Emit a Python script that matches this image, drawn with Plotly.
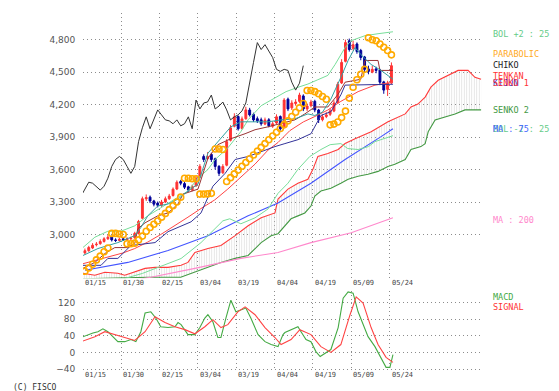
import plotly.graph_objects as go

W, H = 559, 391

# ---------------- data ----------------
day = list(range(81))
open_ = [2830, 2850, 2875, 2905, 2915, 2935, 2960, 2980, 2950, 2945,
         2960, 2950, 2960, 2970, 3010, 3150, 3330, 3345, 3310, 3290,
         3270, 3300, 3330, 3360, 3420, 3490, 3470, 3440, 3410, 3450,
         3530, 3720, 3700, 3740, 3700, 3630, 3570, 3640, 3870, 4000,
         4090, 3980, 4070, 4150, 4110, 4070, 4060, 4020, 4060, 4000,
         4030, 4090, 3990, 4250, 4170, 4210, 4230, 4280, 4160, 4190,
         4230, 4150, 4060, 4090, 4110, 4140, 4220, 4400, 4600, 4790,
         4720, 4760, 4700, 4640, 4530, 4500, 4530, 4520, 4410, 4340, 4400]
close = [2850, 2880, 2900, 2910, 2935, 2960, 2975, 2950, 2945, 2955,
         2950, 2960, 2965, 3010, 3120, 3330, 3340, 3310, 3280, 3270,
         3300, 3330, 3355, 3419, 3483, 3474, 3437, 3410, 3446, 3520,
         3629, 3693, 3721, 3693, 3629, 3565, 3629, 3858, 3986, 4087,
         3977, 4068, 4151, 4105, 4059, 4050, 4023, 4059, 4004, 4023,
         4087, 3977, 4242, 4160, 4215, 4224, 4288, 4160, 4187, 4224,
         4151, 4059, 4087, 4105, 4142, 4215, 4388, 4590, 4773, 4709,
         4754, 4690, 4635, 4526, 4507, 4526, 4516, 4407, 4334, 4398, 4560]
high = [2870, 2895, 2920, 2930, 2955, 2975, 2995, 2990, 2965, 2970,
        2975, 2975, 2980, 3025, 3135, 3350, 3370, 3360, 3320, 3305,
        3320, 3350, 3375, 3435, 3500, 3505, 3485, 3450, 3460, 3540,
        3650, 3740, 3760, 3755, 3710, 3640, 3650, 3880, 4010, 4120,
        4100, 4090, 4180, 4170, 4125, 4090, 4080, 4080, 4075, 4045,
        4110, 4100, 4260, 4265, 4240, 4250, 4310, 4295, 4210, 4245,
        4245, 4160, 4110, 4130, 4165, 4240, 4410, 4620, 4800, 4810,
        4790, 4775, 4715, 4650, 4560, 4560, 4550, 4530, 4420, 4420, 4590]
low = [2815, 2840, 2865, 2890, 2905, 2925, 2950, 2935, 2930, 2935,
       2940, 2940, 2950, 2960, 3000, 3140, 3310, 3290, 3260, 3250,
       3255, 3290, 3320, 3350, 3410, 3455, 3420, 3395, 3400, 3440,
       3520, 3670, 3690, 3670, 3600, 3540, 3560, 3630, 3860, 3990,
       3960, 3970, 4060, 4090, 4040, 4030, 4005, 4010, 3990, 3985,
       4020, 3960, 3980, 4140, 4150, 4190, 4215, 4140, 4140, 4175,
       4130, 4030, 4045, 4075, 4095, 4130, 4210, 4390, 4590, 4690,
       4700, 4670, 4610, 4500, 4480, 4490, 4490, 4380, 4300, 4280, 4390]
CHIKO_SHIFT = 23

bol_up_x = [-0.5, 2.6, 6, 9.4, 13, 16.4, 19.8, 23.5, 26.9, 29.5, 32.1, 33.9, 37.3, 40.7,
            42.6, 46, 49.6, 52.5, 55.6, 58.2, 60.8, 63.4, 65.3, 67.9, 69.5, 73.1, 76.5, 80.4]
bol_up = [2880, 2975, 3030, 3030, 3080, 3172, 3246, 3327, 3401, 3520, 3600, 3690, 3800, 3950,
          4060, 4190, 4260, 4320, 4360, 4390, 4430, 4470, 4571, 4727, 4791, 4837, 4855, 4873]
bol_lo_x = [-0.5, 10, 15, 18.3, 25.1, 30.3, 33.9, 36, 37.8, 40.7, 44.4, 47.8, 50.4, 53,
            55.6, 58.7, 61.6, 64, 66.8, 68.6, 71.3, 74, 75.7, 80.4]
bol_lo = [2560, 2590, 2640, 2687, 2778, 2925, 3053, 3126, 3145, 3099, 3154, 3236, 3380, 3474,
          3602, 3721, 3785, 3830, 3840, 3794, 3785, 3812, 3858, 3913]
ma25_x = [-0.5, 6, 10, 13, 16.4, 19.8, 23.5, 26.9, 30.3, 33.9, 37.3, 40.7, 44.4, 47.8, 50.4,
          53.5, 57, 60, 63.4, 66.8, 71.3, 75.7, 80.4]
ma25 = [2730, 2790, 2830, 2870, 2930, 3000, 3080, 3160, 3240, 3320, 3420, 3530, 3650, 3780,
        3850, 3960, 4040, 4090, 4150, 4230, 4320, 4380, 4407]
ma75_x = [0, 11.2, 21.7, 32.1, 42.6, 50.4, 59, 67.9, 77.3, 80.4]
ma75 = [2669, 2742, 2852, 2989, 3172, 3291, 3474, 3693, 3904, 3977]
ma200_x = [10, 17.2, 28.7, 40.7, 50.4, 59, 69.5, 80.4]
ma200 = [2560, 2605, 2687, 2779, 2834, 2925, 3016, 3154]
short_x = [-0.5, 3.4, 6, 8.6, 13, 14.4, 16.4, 19, 21.7, 24.3, 26.9, 29.5, 32.1, 35.5, 38.1,
           40.7, 44.4, 47.8, 51.2, 54.8, 58.2, 60, 62, 64.2, 66.8, 68.7, 70.5, 72, 74.7, 77.3, 80.4]
short_ma = [2806, 2870, 2898, 2925, 2989, 3053, 3172, 3263, 3282, 3327, 3401, 3465, 3751, 3885,
            3995, 4041, 4041, 4041, 4059, 4068, 4114, 4100, 4130, 4251, 4452, 4608, 4727, 4663,
            4571, 4516, 4434]
tenkan_x = [-0.5, 2.6, 5.2, 7.8, 11.2, 13, 13.8, 15.7, 19, 21.7, 24.3, 25.6, 29.5, 32.1, 34.7,
            38.1, 41.8, 44.4, 47.8, 51.2, 54.8, 57.4, 60, 63.4, 66.1, 67.9, 72, 73.1, 76.5, 77, 80.4]
tenkan = [2687, 2742, 2824, 2879, 2879, 2916, 3053, 3108, 3172, 3199, 3282, 3373, 3419, 3703,
          3830, 3885, 3931, 3968, 3995, 4023, 4059, 4114, 4178, 4178, 4297, 4407, 4434, 4608,
          4608, 4516, 4516]
kijun_x = [-0.5, 4.2, 6, 8.6, 12, 18.3, 21.7, 25.1, 27.7, 30.3, 33.4, 36.6, 39.2, 42.6, 46,
           49.6, 52.2, 55.6, 59, 61.6, 64.2, 66.8, 67.9, 75.7, 80.4]
kijun = [2715, 2715, 2779, 2779, 2898, 2925, 3026, 3081, 3117, 3199, 3446, 3565, 3693, 3721,
         3767, 3812, 3840, 3876, 3931, 4100, 4135, 4290, 4380, 4388, 4388]
senko1_x = [-0.5, 2.6, 5.2, 8.6, 10.4, 13, 15.7, 18.3, 21.7, 25.1, 26.9, 28.7, 32.1, 35.5, 39.2,
            42.6, 46, 49.6, 50.4, 53, 55.6, 58.2, 59.5, 60.8, 63.4, 66.1, 67.9, 70.5, 74.7,
            79.1, 81.7, 83.6, 85.1, 86.9, 88.8, 90.3, 92.2, 94.8, 97.4, 100, 101.8, 103.4]
senko1 = [2642, 2623, 2651, 2642, 2623, 2651, 2687, 2696, 2696, 2715, 2742, 2834, 2870, 2898,
          2989, 3081, 3154, 3199, 3327, 3419, 3474, 3510, 3602, 3721, 3748, 3785, 3840, 3885,
          3949, 4041, 4087, 4114, 4178, 4205, 4270, 4361, 4425, 4471, 4516, 4516, 4452, 4434]
senko2_x = [-0.5, 16.4, 25, 28.7, 35.5, 39.2, 42.6, 46, 48.6, 50.4, 52.2, 53.8, 55.6, 57.4,
            59, 60, 61.6, 64.2, 66.8, 68.7, 71.3, 73.9, 76.5, 79.1, 80.9, 83.6, 85.1, 87.7,
            88.8, 89.6, 91.4, 94, 96.6, 99.2, 103.4]
senko2 = [2590, 2605, 2605, 2651, 2742, 2779, 2806, 2925, 2989, 3007, 3081, 3145, 3172, 3199,
          3263, 3355, 3401, 3428, 3474, 3510, 3538, 3556, 3583, 3629, 3648, 3693, 3785, 3812,
          3840, 3949, 4059, 4087, 4114, 4151, 4151]
parabolic = [2660, 2690, 2725, 2765, 2800, 2840, 2875, 3010, 3010, 3005,
             3000, 2915, 2915, 2920, 2950, 2985, 3030, 3065, 3095, 3125,
             3160, 3195, 3230, 3265, 3300, 3345, 3520, 3520, 3515, 3515,
             3373, 3373, 3375, 3380, 3790, 3790, 3785, 3490, 3525, 3560,
             3595, 3630, 3665, 3700, 3735, 3770, 3805, 3840, 3875, 3910,
             3945, 3980, 4015, 4050, 4090, 4130, 4170, 4210, 4330, 4330,
             4320, 4300, 4275, 4250, 4013, 4020, 4040, 4080, 4140, 4260,
             4360, 4430, 4480, 4526, 4818, 4800, 4790, 4760, 4730, 4700, 4660]
macd_x = [-1, 0.8, 2.1, 3.4, 4.7, 6, 7.3, 8.6, 10.4, 12, 13.3, 14.6, 15.7, 17.2, 18.5, 19.8,
          21.7, 23.5, 24.3, 25.1, 26.9, 28.7, 30, 31.3, 32.1, 33.4, 34.7, 35.5, 36.8, 38.1,
          39.4, 40.7, 42, 43.3, 45.2, 47, 48.6, 50.4, 51.7, 52.2, 53.8, 55.6, 56.4, 57.7, 59,
          60.3, 61.4, 62.9, 64.2, 66.1, 67.4, 68.7, 70, 71.3, 72.6, 73.9, 75.7, 77.3, 78.6,
          79.6, 80.4]
macd = [36, 43, 47, 50, 57, 50, 38, 26, 26, 31, 26, 50, 95, 98, 83, 62,
        60, 62, 72, 67, 43, 43, 60, 83, 91, 74, 36, 36, 83, 126,
        98, 103, 107, 83, 43, 26, 19, 14, 43, 48, 55, 62, 50, 31, 26,
        2, -10, 0, 7, 60, 131, 146, 143, 98, 67, 38, 14, -12, -36,
        -36, -5]
signal_x = [-1, 2.6, 5.2, 7.8, 10.4, 13, 15.7, 18.3, 20.9, 23.5, 26.1, 28.7, 31.3, 33.4, 35.5,
            37.3, 39.9, 41.8, 44.4, 47, 49.6, 51.2, 53.8, 56.1, 59, 61.6, 64.2, 66.8, 69.2,
            70.8, 72.6, 74.7, 76.5, 78.6, 80.4]
signal = [26, 38, 50, 43, 36, 29, 50, 86, 72, 62, 55, 45, 62, 79, 60,
          67, 98, 110, 91, 60, 36, 19, 31, 55, 43, 14, 0, 19, 91,
          134, 119, 60, 19, -12, -24]

date_labels = ["01/15", "01/30", "02/15", "03/04", "03/19", "04/04", "04/19", "05/09", "05/24"]
date_pos = [-0.5, 9.5, 19.5, 29.5, 39.5, 49.5, 59.5, 69.5, 79.5]
price_ticks = [3000, 3300, 3600, 3900, 4200, 4500, 4800]
macd_ticks = [-40, 0, 40, 80, 120]

# ---------------- figure ----------------
fig = go.Figure()

def line(x, y, color, width=1.0, axes=("x", "y")):
    fig.add_trace(go.Scatter(x=x, y=y, mode="lines", line=dict(color=color, width=width),
                             xaxis=axes[0], yaxis=axes[1], hoverinfo="skip"))

# cloud
fig.add_trace(go.Scatter(x=senko2_x, y=senko2, mode="lines", line=dict(color="#449944", width=1.1),
                         hoverinfo="skip"))
fig.add_trace(go.Scatter(x=senko1_x, y=senko1, mode="lines", line=dict(color="#ff3b3b", width=1.1),
                         fill="tonexty", fillcolor="rgba(0,0,0,0)",
                         fillpattern=dict(shape="|", fgcolor="#c4c4c4", size=2.5, solidity=0.35),
                         hoverinfo="skip"))
line(ma200_x, ma200, "#ff88cc", 1.1)
line(ma75_x, ma75, "#4455ff", 1.1)
line(bol_up_x, bol_up, "#77dd99", 1.0)
line(bol_lo_x, bol_lo, "#77dd99", 1.0)
line(ma25_x, ma25, "#ff4444", 1.0)
line(kijun_x, kijun, "#333399", 1.0)
line(tenkan_x, tenkan, "#993333", 1.0)
line(short_x, short_ma, "#33a0a0", 1.0)
line([d - CHIKO_SHIFT for d in day[22:]], close[22:], "#333333", 1.0)

fig.add_trace(go.Candlestick(x=day, open=open_, high=high, low=low, close=close,
                             increasing=dict(line=dict(color="#ff3333", width=1), fillcolor="#ff3333"),
                             decreasing=dict(line=dict(color="#000099", width=1), fillcolor="#000099"),
                             whiskerwidth=0, hoverinfo="skip"))
fig.add_trace(go.Scatter(x=day, y=parabolic, mode="markers",
                         marker=dict(symbol="circle-open", size=6, color="#ffaa00",
                                     line=dict(width=1.6, color="#ffaa00")),
                         hoverinfo="skip"))

line(macd_x, macd, "#44aa44", 1.1, ("x2", "y2"))
line(signal_x, signal, "#ff4444", 1.1, ("x2", "y2"))

xdom = [75 / W, 475 / W]
main_dom = [1 - 273 / H, 1 - 5 / H]
macd_dom = [1 - 366 / H, 1 - 286 / H]
grid = dict(showgrid=True, gridcolor="#8c8c8c", griddash="1px,3px", gridwidth=1, zeroline=False,
            showline=False)

fig.update_layout(
    width=W, height=H, margin=dict(l=0, r=0, t=0, b=0),
    paper_bgcolor="white", plot_bgcolor="white", showlegend=False,
    xaxis=dict(domain=xdom, range=[-0.5, 103.9], tickvals=date_pos, showticklabels=False,
               rangeslider=dict(visible=False), anchor="y", **grid),
    yaxis=dict(domain=main_dom, range=[2596, 5047], tickvals=price_ticks,
               ticktext=[f"{v:,}" for v in price_ticks], anchor="x",
               tickfont=dict(family="DejaVu Sans", size=9, color="#555555"),
               ticks="outside", ticklen=5, tickcolor="white", **grid),
    xaxis2=dict(domain=xdom, range=[-0.5, 103.9], tickvals=date_pos, showticklabels=False,
                anchor="y2", **grid),
    yaxis2=dict(domain=macd_dom, range=[-43, 148], tickvals=macd_ticks, anchor="x2",
                tickfont=dict(family="DejaVu Sans", size=9, color="#555555"),
                ticks="outside", ticklen=5, tickcolor="white", **grid),
)

ann = []
mono = "DejaVu Sans Mono"
for lab, p in zip(date_labels, date_pos):
    for ypx in (278, 371):
        ann.append(dict(x=p, xref="x", y=1 - ypx / H, yref="paper", text=lab, showarrow=False,
                        xanchor="left", yanchor="middle",
                        font=dict(family=mono, size=7, color="#444444")))

legend_items = [
    ("BOL +2 : 25", "#66cc88", 26), ("PARABOLIC", "#ffaa22", 46), ("CHIKO", "#222222", 58),
    ("TENKAN", "#ff3333", 69), ("KIJUN", "#3333cc", 76), ("SENKO 1", "#ff3333", 76),
    ("SENKO 2", "#449944", 103), ("BOL -2 : 25", "#66cc88", 122), ("MA : 75", "#4466ff", 122),
    ("MA : 200", "#ff88cc", 214), ("MACD", "#44aa44", 292), ("SIGNAL", "#ff3333", 302),
]
for txt, col, ypx in legend_items:
    ann.append(dict(x=483 / W, xref="paper", y=1 - ypx / H, yref="paper", text=txt,
                    showarrow=False, xanchor="left", yanchor="middle",
                    font=dict(family=mono, size=8.5, color=col)))
ann.append(dict(x=3 / W, xref="paper", y=1 - 383 / H, yref="paper", text="(C) FISCO",
                showarrow=False, xanchor="left", yanchor="middle",
                font=dict(family=mono, size=8, color="#333333")))
fig.update_layout(annotations=ann)

fig.write_html("out.html")
